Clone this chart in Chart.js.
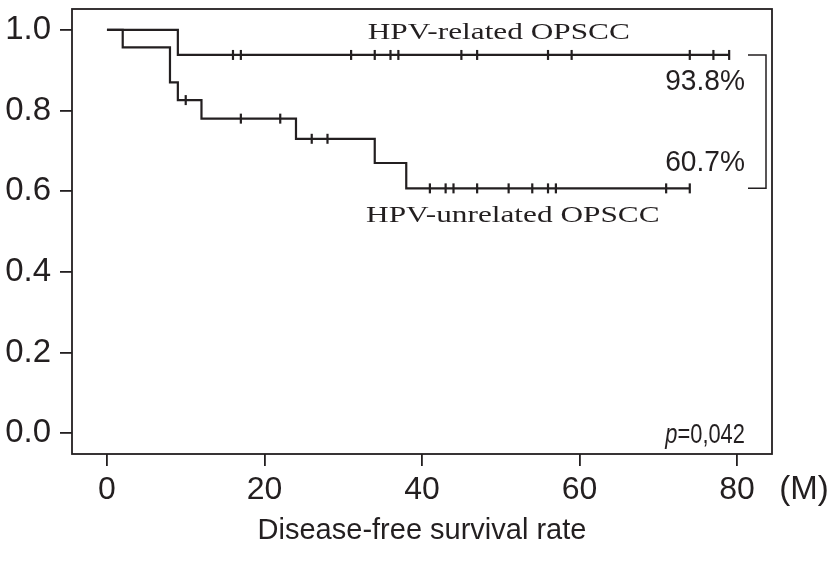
<!DOCTYPE html>
<html>
<head>
<meta charset="utf-8">
<script src="https://cdn.jsdelivr.net/npm/chart.js@4.4.1/dist/chart.umd.min.js"></script>
<style>
  html, body { margin: 0; padding: 0; background: #ffffff; }
  #wrap { width: 835px; height: 567px; }
</style>
</head>
<body>
<div id="wrap"><canvas id="c" width="835" height="567"></canvas></div>
<script>
// ---- data ----
const relatedTimes = [0, 9, 79];
const relatedSurv = [1.0, 0.938, 0.938];
const relatedCensorTimes = [16, 17, 31, 34, 36, 37, 45, 47, 56, 59, 74, 77, 79];
const relatedCensorSurv = [0.938, 0.938, 0.938, 0.938, 0.938, 0.938, 0.938, 0.938, 0.938, 0.938, 0.938, 0.938, 0.938];

const unrelatedTimes = [0, 2, 8, 9, 12, 24, 34, 38, 74];
const unrelatedSurv = [1.0, 0.957, 0.870, 0.826, 0.780, 0.730, 0.670, 0.607, 0.607];
const unrelatedCensorTimes = [10, 17, 22, 26, 28, 41, 43, 44, 47, 51, 54, 56, 57, 71, 74];
const unrelatedCensorSurv = [0.826, 0.780, 0.780, 0.730, 0.730, 0.607, 0.607, 0.607, 0.607, 0.607, 0.607, 0.607, 0.607, 0.607, 0.607];

const xTickValues = [0, 20, 40, 60, 80];
const xTickLabels = ['0', '20', '40', '60', '80'];
const yTickValues = [0.0, 0.2, 0.4, 0.6, 0.8, 1.0];
const yTickLabels = ['0.0', '0.2', '0.4', '0.6', '0.8', '1.0'];

const seriesNames = ['HPV-related OPSCC', 'HPV-unrelated OPSCC'];
const endLabels = ['93.8%', '60.7%'];
const pValueLabel = ['p', '=0,042'];
const xUnitLabel = '(M)';
const xAxisTitle = 'Disease-free survival rate';

// ---- styling ----
const INK = '#231f20';
const SANS = '"Liberation Sans", Arial, Helvetica, sans-serif';
const SERIF = '"Liberation Serif", "Times New Roman", serif';

function pts(xs, ys) { return xs.map((x, i) => ({ x: x, y: ys[i] })); }

const overlay = {
  id: 'overlay',
  afterDraw(chart) {
    const ctx = chart.ctx;
    const a = chart.chartArea;
    const xs = chart.scales.x, ys = chart.scales.y;
    ctx.save();
    // frame
    ctx.strokeStyle = INK;
    ctx.lineWidth = 1.8;
    ctx.strokeRect(a.left, a.top, a.right - a.left, a.bottom - a.top);

    // bracket joining the two final rates
    const yTop = ys.getPixelForValue(relatedSurv[relatedSurv.length - 1]);
    const yBot = ys.getPixelForValue(unrelatedSurv[unrelatedSurv.length - 1]);
    const bx = a.right - 6, bx0 = a.right - 24;
    ctx.lineWidth = 1.5;
    ctx.beginPath();
    ctx.moveTo(bx0, yTop); ctx.lineTo(bx, yTop); ctx.lineTo(bx, yBot); ctx.lineTo(bx0, yBot);
    ctx.stroke();

    function scaledText(txt, x, y, font, sx, align) {
      ctx.save();
      ctx.font = font;
      ctx.textBaseline = 'alphabetic';
      ctx.textAlign = 'left';
      const w = ctx.measureText(txt).width * sx;
      let left = x;
      if (align === 'right') left = x - w;
      if (align === 'center') left = x - w / 2;
      ctx.translate(left, y);
      ctx.scale(sx, 1);
      ctx.fillText(txt, 0, 0);
      ctx.restore();
      return w;
    }
    ctx.fillStyle = INK;
    // series names (serif)
    scaledText(seriesNames[0], xs.getPixelForValue(33.1), ys.getPixelForValue(0.978), '23px ' + SERIF, 1.36, 'left');
    scaledText(seriesNames[1], xs.getPixelForValue(32.9), ys.getPixelForValue(0.524), '23px ' + SERIF, 1.36, 'left');
    // end rates
    scaledText(endLabels[0], xs.getPixelForValue(81.0), ys.getPixelForValue(0.851), '29px ' + SANS, 0.97, 'right');
    scaledText(endLabels[1], xs.getPixelForValue(81.0), ys.getPixelForValue(0.650), '29px ' + SANS, 0.97, 'right');
    // p value
    ctx.font = '28px ' + SANS;
    const restW = ctx.measureText(pValueLabel[1]).width * 0.78;
    const px = xs.getPixelForValue(81.0);
    const py = ys.getPixelForValue(-0.025);
    scaledText(pValueLabel[1], px, py, '28px ' + SANS, 0.78, 'right');
    scaledText(pValueLabel[0], px - restW, py, 'italic 28px ' + SANS, 0.78, 'right');
    // unit
    ctx.font = '33px ' + SANS;
    ctx.textAlign = 'center';
    ctx.textBaseline = 'middle';
    ctx.fillText(xUnitLabel, a.right + 32, a.bottom + 36);
    ctx.restore();
  }
};

new Chart(document.getElementById('c'), {
  type: 'line',
  data: {
    datasets: [
      { data: pts(relatedTimes, relatedSurv), stepped: true, borderColor: INK, borderWidth: 2.2, pointRadius: 0, fill: false },
      { data: pts(unrelatedTimes, unrelatedSurv), stepped: true, borderColor: INK, borderWidth: 2.2, pointRadius: 0, fill: false },
      { type: 'scatter', data: pts(relatedCensorTimes, relatedCensorSurv), showLine: false, pointStyle: 'line', rotation: 90, pointRadius: 5, borderColor: INK, borderWidth: 2.2 },
      { type: 'scatter', data: pts(unrelatedCensorTimes, unrelatedCensorSurv), showLine: false, pointStyle: 'line', rotation: 90, pointRadius: 5, borderColor: INK, borderWidth: 2.2 }
    ]
  },
  options: {
    responsive: false,
    animation: false,
    events: [],
    layout: { padding: { top: 9, right: 63, left: 0, bottom: 0 } },
    plugins: { legend: { display: false }, tooltip: { enabled: false } },
    scales: {
      x: {
        type: 'linear', min: -4.44, max: 84.44,
        afterBuildTicks: s => { s.ticks = xTickValues.map(v => ({ value: v })); },
        afterFit: s => { s.height = 113; s.paddingLeft = 0; s.paddingRight = 0; },
        ticks: { callback: (v, i) => xTickLabels[i], color: INK, padding: 8, font: { family: SANS, size: 32, lineHeight: 1 }, maxRotation: 0, autoSkip: false },
        grid: { drawOnChartArea: false, drawTicks: true, tickLength: 12, color: INK, lineWidth: 1.8 },
        border: { display: false },
        title: { display: true, text: xAxisTitle, color: INK, font: { family: SANS, size: 29, lineHeight: 1 }, padding: { top: 0, bottom: 22 } }
      },
      y: {
        type: 'linear', min: -0.052, max: 1.052,
        afterBuildTicks: s => { s.ticks = yTickValues.map(v => ({ value: v })); },
        afterFit: s => { s.width = 72; s.paddingTop = 0; s.paddingBottom = 0; },
        ticks: { callback: (v, i) => yTickLabels[i], color: INK, padding: 9, font: { family: SANS, size: 33, lineHeight: 0.5 }, autoSkip: false },
        grid: { drawOnChartArea: false, drawTicks: true, tickLength: 12, color: INK, lineWidth: 1.8 },
        border: { display: false }
      }
    }
  },
  plugins: [overlay]
});
</script>
</body>
</html>
